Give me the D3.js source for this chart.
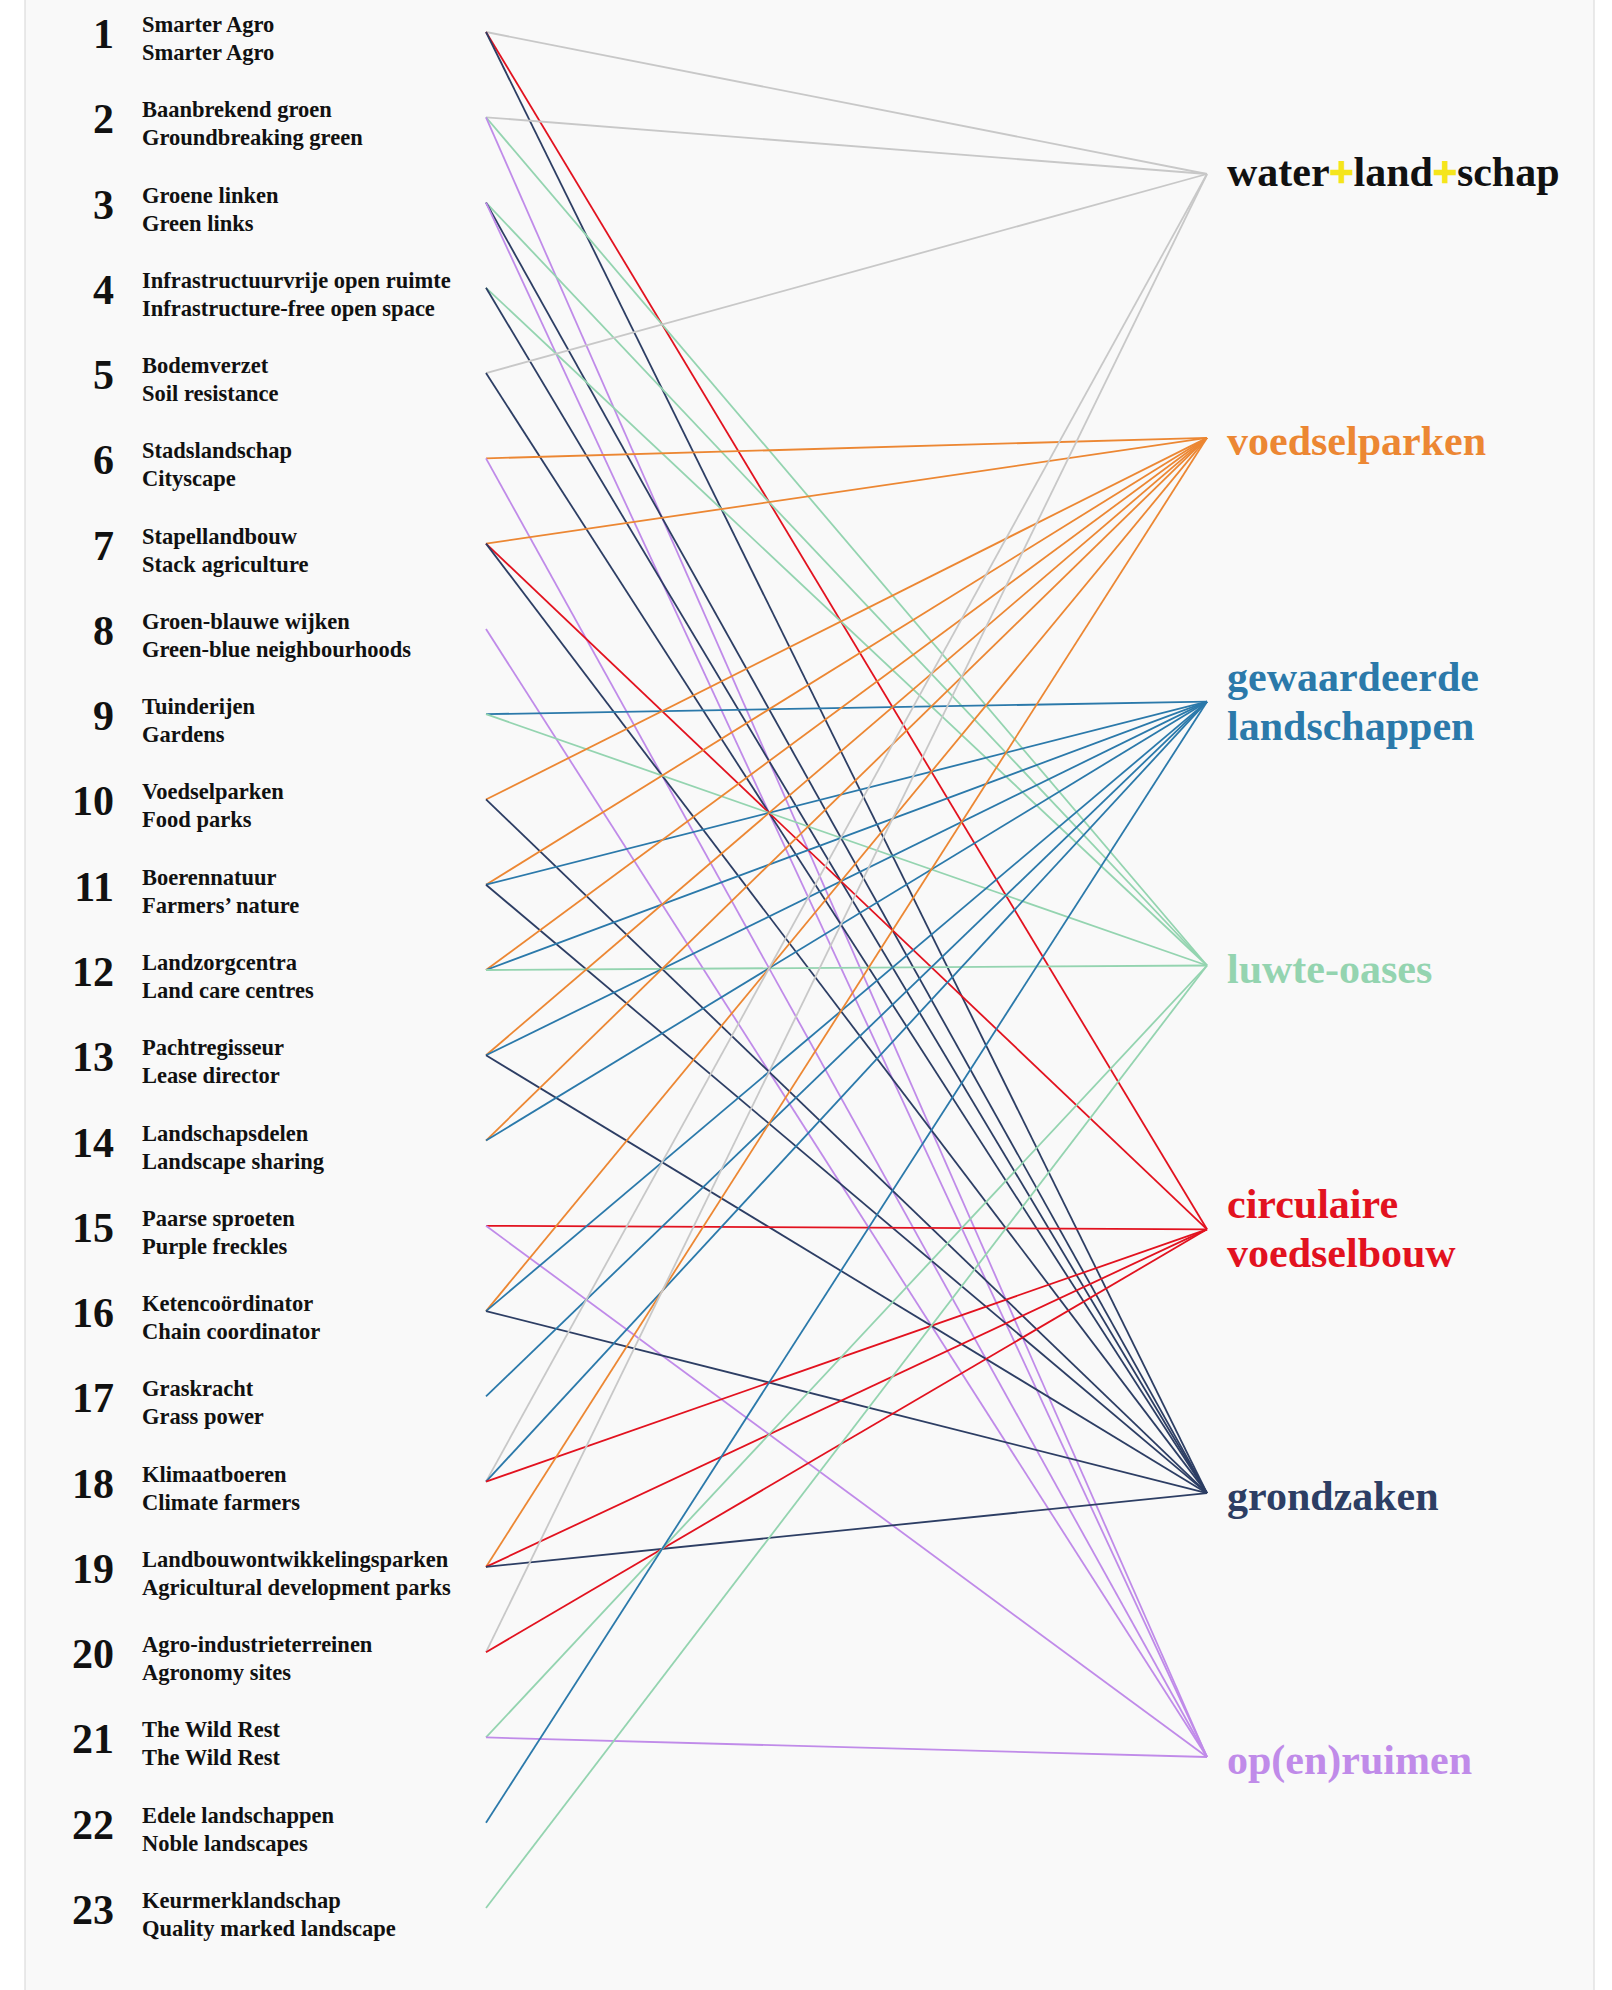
<!DOCTYPE html>
<html>
<head>
<meta charset="utf-8">
<script src="https://cdn.jsdelivr.net/npm/d3@7/dist/d3.min.js"></script>
<style>
  html, body { margin: 0; padding: 0; background: #ffffff; }
  svg { display: block; }
  text { font-family: "Liberation Serif", "Times New Roman", serif; font-weight: bold; }
</style>
</head>
<body>
<svg id="chart" width="1612" height="1990"></svg>
<script>
// ---------- DATA ----------
const sourceIds = d3.range(1, 24);
const dutchNames = [
  "Smarter Agro", "Baanbrekend groen", "Groene linken", "Infrastructuurvrije open ruimte",
  "Bodemverzet", "Stadslandschap", "Stapellandbouw", "Groen-blauwe wijken", "Tuinderijen",
  "Voedselparken", "Boerennatuur", "Landzorgcentra", "Pachtregisseur", "Landschapsdelen",
  "Paarse sproeten", "Ketencoördinator", "Graskracht", "Klimaatboeren",
  "Landbouwontwikkelingsparken", "Agro-industrieterreinen", "The Wild Rest",
  "Edele landschappen", "Keurmerklandschap"
];
const englishNames = [
  "Smarter Agro", "Groundbreaking green", "Green links", "Infrastructure-free open space",
  "Soil resistance", "Cityscape", "Stack agriculture", "Green-blue neighbourhoods", "Gardens",
  "Food parks", "Farmers\u2019 nature", "Land care centres", "Lease director", "Landscape sharing",
  "Purple freckles", "Chain coordinator", "Grass power", "Climate farmers",
  "Agricultural development parks", "Agronomy sites", "The Wild Rest",
  "Noble landscapes", "Quality marked landscape"
];
const targets = ["waterlandschap", "voedselparken", "gewaardeerde", "luwte", "circulaire", "grondzaken", "openruimen"];
const targetLabels = [
  ["water+land+schap"],
  ["voedselparken"],
  ["gewaardeerde", "landschappen"],
  ["luwte-oases"],
  ["circulaire", "voedselbouw"],
  ["grondzaken"],
  ["op(en)ruimen"]
];
const targetColors = ["#c8c8c8", "#ec8733", "#2b79aa", "#94d4b0", "#e2121f", "#2d3e64", "#c08be9"];
const labelColors  = ["#111111", "#ec8733", "#2b79aa", "#94d4b0", "#e2121f", "#2d3e64", "#c08be9"];
const plusColor = "#f5e51b";

// links: [source number, target key]
const links = [
  [1, "waterlandschap"], [1, "circulaire"], [1, "grondzaken"],
  [2, "waterlandschap"], [2, "luwte"], [2, "openruimen"],
  [3, "luwte"], [3, "grondzaken"], [3, "openruimen"],
  [4, "luwte"], [4, "grondzaken"],
  [5, "waterlandschap"], [5, "grondzaken"],
  [6, "voedselparken"], [6, "openruimen"],
  [7, "voedselparken"], [7, "circulaire"], [7, "grondzaken"],
  [8, "openruimen"],
  [9, "gewaardeerde"], [9, "luwte"],
  [10, "voedselparken"], [10, "grondzaken"],
  [11, "voedselparken"], [11, "gewaardeerde"], [11, "grondzaken"],
  [12, "voedselparken"], [12, "gewaardeerde"], [12, "luwte"],
  [13, "voedselparken"], [13, "gewaardeerde"], [13, "grondzaken"],
  [14, "voedselparken"], [14, "gewaardeerde"],
  [15, "circulaire"], [15, "openruimen"],
  [16, "voedselparken"], [16, "gewaardeerde"], [16, "grondzaken"],
  [17, "gewaardeerde"],
  [18, "waterlandschap"], [18, "gewaardeerde"], [18, "circulaire"],
  [19, "voedselparken"], [19, "circulaire"], [19, "grondzaken"],
  [20, "waterlandschap"], [20, "circulaire"],
  [21, "luwte"], [21, "openruimen"],
  [22, "gewaardeerde"],
  [23, "luwte"]
];

// ---------- LAYOUT ----------
const W = 1612, H = 1990;
const svg = d3.select("#chart");

const xLeft = 486, xRight = 1207;
const yLeft = d3.scalePoint().domain(sourceIds).range([32, 1908]);
const yRight = d3.scalePoint().domain(targets).range([174, 1757]);
const color = d3.scaleOrdinal().domain(targets).range(targetColors);
const labelColor = d3.scaleOrdinal().domain(targets).range(labelColors);

// card background
svg.append("rect").attr("x", 0).attr("y", 0).attr("width", W).attr("height", H).attr("fill", "#ffffff");
svg.append("rect").attr("x", 25).attr("y", -2).attr("width", 1569).attr("height", H + 4)
  .attr("fill", "#f9f9f9").attr("stroke", "#d6d6d6").attr("stroke-width", 1);

// links
svg.append("g").selectAll("line").data(links).join("line")
  .attr("x1", xLeft).attr("y1", d => yLeft(d[0]))
  .attr("x2", xRight).attr("y2", d => yRight(d[1]))
  .attr("stroke", d => color(d[1]))
  .attr("stroke-width", 1.8)
  .attr("fill", "none");

// left labels
const left = svg.append("g").selectAll("g").data(sourceIds).join("g")
  .attr("transform", d => `translate(0,${yLeft(d)})`);
left.append("text")
  .attr("x", 114).attr("y", 16)
  .attr("text-anchor", "end")
  .attr("font-size", 42)
  .attr("fill", "#111")
  .text(d => d);
left.append("text")
  .attr("x", 142).attr("y", 0)
  .attr("font-size", 22.5)
  .attr("fill", "#111")
  .text((d, i) => dutchNames[i]);
left.append("text")
  .attr("x", 142).attr("y", 28)
  .attr("font-size", 22.5)
  .attr("fill", "#111")
  .text((d, i) => englishNames[i]);

// right labels
const right = svg.append("g").selectAll("g").data(targets).join("g")
  .attr("transform", d => `translate(1227,${yRight(d)})`);
right.each(function(d, i) {
  const g = d3.select(this);
  const lines = targetLabels[i];
  const t = g.append("text")
    .attr("font-size", 42)
    .attr("fill", labelColor(d));
  if (lines.length === 1) {
    const parts = lines[0].split(/(\+)/);
    const tl = t.attr("y", i === 0 ? 12 : 17);
    parts.forEach(p => {
      const sp = tl.append("tspan").text(p);
      if (p === "+") {
        sp.attr("fill", plusColor).attr("stroke", plusColor).attr("stroke-width", 2.5);
      }
    });
  } else {
    lines.forEach((ln, k) => {
      t.append("tspan").attr("x", 0).attr("y", k === 0 ? -11 : 38).text(ln);
    });
  }
});
</script>
</body>
</html>
